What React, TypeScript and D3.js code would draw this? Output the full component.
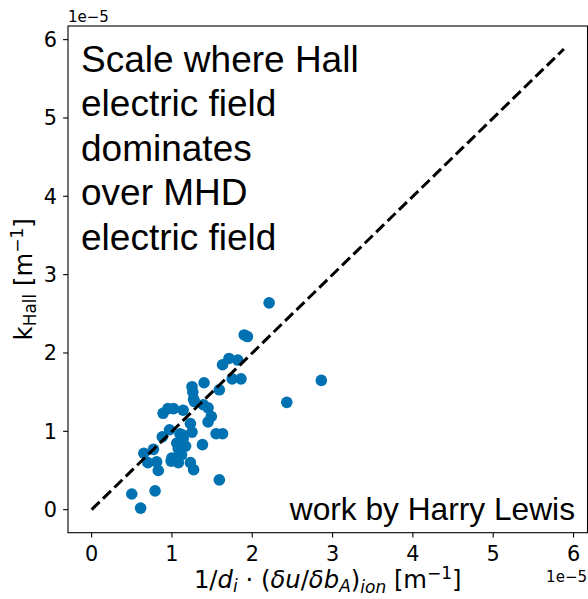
import React from "react";
import * as d3 from "d3";

const xValues = [2.21, 1.90, 1.94, 1.63, 1.71, 1.82, 1.75, 1.86, 2.86, 2.43, 1.40, 1.25, 1.26, 1.59, 1.27, 1.28, 1.39, 1.45, 1.49, 1.45, 0.89, 0.95, 1.02, 1.14, 1.23, 1.25, 0.97, 0.88, 1.14, 1.10, 1.14, 1.06, 1.17, 1.10, 1.08, 0.99, 1.08, 1.23, 1.27, 1.38, 1.55, 1.63, 1.59, 0.65, 0.77, 0.70, 0.81, 0.83, 0.50, 0.79, 0.61, 1.00, 1.12];
const yValues = [2.64, 2.23, 2.21, 1.85, 1.93, 1.91, 1.67, 1.67, 1.65, 1.37, 1.62, 1.57, 1.50, 1.53, 1.41, 1.38, 1.34, 1.30, 1.19, 1.12, 1.23, 1.29, 1.29, 1.27, 1.10, 0.99, 1.02, 0.93, 0.95, 0.97, 0.91, 0.85, 0.81, 0.72, 0.78, 0.62, 0.60, 0.60, 0.51, 0.83, 0.97, 0.97, 0.38, 0.72, 0.77, 0.60, 0.61, 0.50, 0.20, 0.24, 0.02, 0.66, 0.70];
const lineX = [0, 5.88];
const xTicks = [0, 1, 2, 3, 4, 5, 6];
const yTicks = [0, 1, 2, 3, 4, 5, 6];
const noteLines = ["Scale where Hall", "electric field", "dominates", "over MHD", "electric field"];
const credit = "work by Harry Lewis";

const W = 588, H = 599;
const L = 68, R = 587.5, T = 26, B = 532.7;

export default function App() {
  const x = d3.scaleLinear().domain([-0.294, 6.174]).range([L, R]);
  const y = d3.scaleLinear().domain([-0.294, 6.174]).range([B, T]);
  const line = d3.line<number>().x((d) => x(d)).y((d) => y(d));
  const tickFont = "DejaVu Sans";
  const fs = 20.8;
  const lf = 24.3;
  return (
    <svg width={W} height={H} style={{ position: "absolute", left: 0, top: 0, background: "#fff" }}>
      <rect x={0} y={0} width={W} height={H} fill="#fff" />
      {xValues.map((v, i) => (
        <circle key={i} cx={x(v)} cy={y(yValues[i])} r={5.8} fill="#0072b2" />
      ))}
      <path d={line(lineX) || ""} stroke="#000" strokeWidth={3} strokeDasharray="11.1 4.8" fill="none" />
      <text fontFamily="Liberation Sans, Arial" fontSize={37} fill="#000">
        {noteLines.map((s, i) => (
          <tspan key={i} x={81} y={72 + i * 44.4}>{s}</tspan>
        ))}
      </text>
      <text x={575} y={520} textAnchor="end" fontFamily="Liberation Sans, Arial" fontSize={31.7} fill="#000">{credit}</text>
      <rect x={L} y={T} width={R - L} height={B - T} fill="none" stroke="#000" strokeWidth={1.1} />
      {xTicks.map((t) => (
        <g key={"x" + t}>
          <line x1={x(t)} x2={x(t)} y1={B} y2={B + 4.9} stroke="#000" strokeWidth={1.1} />
          <text x={x(t)} y={561} textAnchor="middle" fontFamily={tickFont} fontSize={fs}>{t}</text>
        </g>
      ))}
      {yTicks.map((t) => (
        <g key={"y" + t}>
          <line x1={L - 4.9} x2={L} y1={y(t)} y2={y(t)} stroke="#000" strokeWidth={1.1} />
          <text x={57} y={y(t)} dy="0.36em" textAnchor="end" fontFamily={tickFont} fontSize={fs}>{t}</text>
        </g>
      ))}
      <text x={68} y={22} fontFamily={tickFont} fontSize={15}>1e−5</text>
      <text x={587} y={582} textAnchor="end" fontFamily={tickFont} fontSize={15}>1e−5</text>
      <text x={(L + R) / 2} y={588} textAnchor="middle" fontFamily={tickFont} fontSize={lf} xmlSpace="preserve">
        <tspan>1/</tspan>
        <tspan fontStyle="italic">d</tspan>
        <tspan fontStyle="italic" fontSize={lf * 0.7} dy={4}>i</tspan>
        <tspan dy={-4}>{" · ("}</tspan>
        <tspan fontStyle="italic">δu</tspan>
        <tspan>/</tspan>
        <tspan fontStyle="italic">δb</tspan>
        <tspan fontStyle="italic" fontSize={lf * 0.7} dy={4}>A</tspan>
        <tspan dy={-4}>)</tspan>
        <tspan fontStyle="italic" fontSize={lf * 0.7} dy={5}>ion</tspan>
        <tspan dy={-5}>{" [m"}</tspan>
        <tspan fontSize={lf * 0.7} dy={-9}>−1</tspan>
        <tspan dy={9}>]</tspan>
      </text>
      <text transform={`translate(32, ${(T + B) / 2}) rotate(-90)`} textAnchor="middle" fontFamily={tickFont} fontSize={lf} xmlSpace="preserve">
        <tspan>k</tspan>
        <tspan fontSize={lf * 0.7} dy={4}>Hall</tspan>
        <tspan dy={-4}>{" [m"}</tspan>
        <tspan fontSize={lf * 0.7} dy={-9}>−1</tspan>
        <tspan dy={9}>]</tspan>
      </text>
    </svg>
  );
}
